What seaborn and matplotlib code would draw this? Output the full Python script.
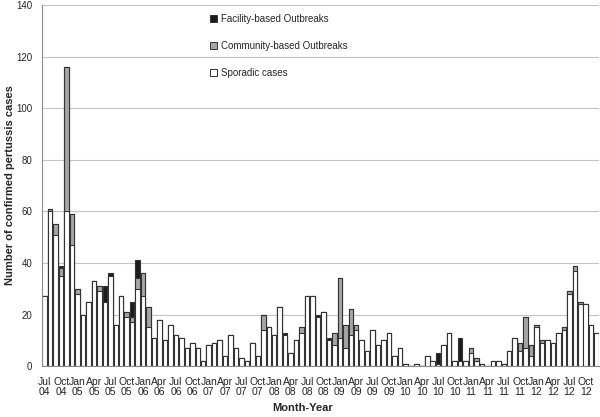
import matplotlib
matplotlib.use("Agg")
import matplotlib.pyplot as plt
from matplotlib.patches import Patch
import numpy as np
import pandas as pd
import seaborn as sns

sns.set_style("white")
plt.rcParams['font.family'] = ['Liberation Sans', 'DejaVu Sans']

# months Jul 2004 .. Dec 2012
month_abbr = ["Jan", "Feb", "Mar", "Apr", "May", "Jun",
              "Jul", "Aug", "Sep", "Oct", "Nov", "Dec"]
months = [f"{m} {y:02d}" for y in range(4, 13) for m in month_abbr]
months = months[6:]

sporadic = [27, 60, 51, 35, 60, 47, 28, 20, 25, 33, 29, 25,
            35, 16, 27, 19, 17, 30, 27, 15, 11, 18, 10, 16,
            12, 11, 7, 9, 7, 2, 8, 9, 10, 4, 12, 7,
            3, 2, 9, 4, 14, 15, 12, 23, 12, 5, 10, 13,
            27, 27, 19, 21, 10, 8, 11, 7, 12, 14, 10, 6,
            14, 8, 10, 13, 4, 7, 1, 0, 1, 0, 4, 2,
            1, 8, 13, 2, 2, 2, 5, 2, 1, 0, 2, 2,
            1, 6, 11, 6, 7, 4, 15, 9, 10, 9, 13, 14,
            28, 37, 24, 24, 16, 13]
community = [0, 1, 4, 3, 56, 12, 2, 0, 0, 0, 2, 0,
             0, 0, 0, 2, 2, 4, 9, 8, 0, 0, 0, 0,
             0, 0, 0, 0, 0, 0, 0, 0, 0, 0, 0, 0,
             0, 0, 0, 0, 6, 0, 0, 0, 0, 0, 0, 2,
             0, 0, 0, 0, 0, 5, 23, 9, 10, 2, 0, 0,
             0, 0, 0, 0, 0, 0, 0, 0, 0, 0, 0, 0,
             0, 0, 0, 0, 0, 0, 2, 1, 0, 0, 0, 0,
             0, 0, 0, 3, 12, 4, 1, 1, 0, 0, 0, 1,
             1, 2, 1, 0, 0, 0]
facility = [0, 0, 0, 1, 0, 0, 0, 0, 0, 0, 0, 6,
            1, 0, 0, 0, 6, 7, 0, 0, 0, 0, 0, 0,
            0, 0, 0, 0, 0, 0, 0, 0, 0, 0, 0, 0,
            0, 0, 0, 0, 0, 0, 0, 0, 1, 0, 0, 0,
            0, 0, 1, 0, 1, 0, 0, 0, 0, 0, 0, 0,
            0, 0, 0, 0, 0, 0, 0, 0, 0, 0, 0, 0,
            4, 0, 0, 0, 9, 0, 0, 0, 0, 0, 0, 0,
            0, 0, 0, 0, 0, 0, 0, 0, 0, 0, 0, 0,
            0, 0, 0, 0, 0, 0]

tick_labels = [m.replace(" ", "\n") for m in months[::3]]

df = pd.DataFrame({'month': months, 'sporadic': sporadic,
                   'community': community, 'facility': facility})
df['with_comm'] = df['sporadic'] + df['community']
df['total'] = df['with_comm'] + df['facility']

fig, ax = plt.subplots(figsize=(6, 4.17), dpi=100)
fig.subplots_adjust(left=0.07, right=0.999, bottom=0.122, top=0.988)

# stacked look: draw cumulative heights from the top down
for col, colour in [('total', '#1c1c1c'), ('with_comm', '#a6a6a6'), ('sporadic', 'white')]:
    sns.barplot(data=df, x='month', y=col, order=months, color=colour,
                saturation=1, width=0.82, edgecolor='#333333', linewidth=0.8,
                errorbar=None, ax=ax)

ax.set_ylim(0, 140)
ax.set_xlim(-0.5, len(months) - 0.5)
ax.set_yticks(range(0, 141, 20))
ax.yaxis.grid(True, color='#c4c4c4', linewidth=0.8)
ax.set_axisbelow(True)

ax.set_xticks(range(0, len(months), 3))
ax.set_xticklabels(tick_labels, fontsize=7.5, linespacing=0.95)
ax.set_xticks(np.arange(-0.5, len(months), 1), minor=True)
ax.tick_params(axis='x', which='major', length=0, pad=8)
ax.tick_params(axis='x', which='minor', length=3, color='#888888', width=0.6, direction='out')
ax.tick_params(axis='y', length=0, pad=7, labelsize=7)
ax.set_xlabel('')
ax.set_ylabel('')

for side in ['top', 'right']:
    ax.spines[side].set_visible(False)
for side in ['left', 'bottom']:
    ax.spines[side].set_color('#8c8c8c')
    ax.spines[side].set_linewidth(0.8)

handles = [Patch(facecolor='#1c1c1c', edgecolor='#333333', linewidth=0.7),
           Patch(facecolor='#a6a6a6', edgecolor='#333333', linewidth=0.7),
           Patch(facecolor='white', edgecolor='#333333', linewidth=0.7)]
labels = ['Facility-based Outbreaks', 'Community-based Outbreaks', 'Sporadic cases']
ax.legend(handles, labels, loc='upper left', bbox_to_anchor=(210 / 600, 1 - 14 / 417),
          bbox_transform=fig.transFigure, frameon=False, fontsize=7,
          handlelength=0.7, handleheight=0.7, handletextpad=0.4,
          labelspacing=1.75, borderpad=0, borderaxespad=0)

fig.text(10 / 600, 1 - 185.5 / 417, 'Number of confirmed pertussis cases',
         rotation=90, ha='center', va='center', fontsize=8, fontweight='bold')
fig.text(303 / 600, 1 - 408 / 417, 'Month-Year', ha='center', va='center',
         fontsize=8, fontweight='bold')

fig.savefig('out.png', dpi=100)
